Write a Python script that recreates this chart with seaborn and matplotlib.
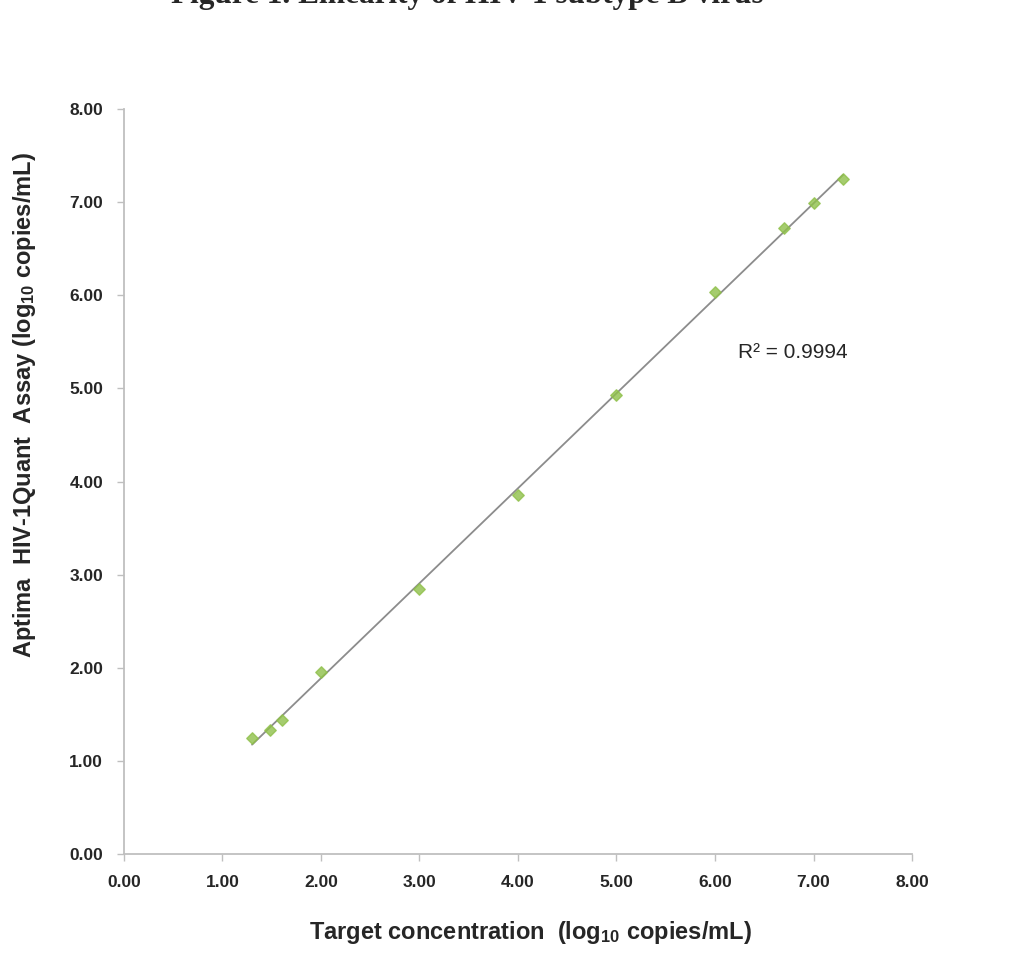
import numpy as np
import pandas as pd
import matplotlib
matplotlib.use("Agg")
import matplotlib.pyplot as plt
import seaborn as sns

# target vs measured (log10 copies/mL)
target = [1.30, 1.48, 1.60, 2.00, 3.00, 4.00, 5.00, 6.00, 6.70, 7.00, 7.30]
measured = [1.25, 1.33, 1.44, 1.95, 2.85, 3.86, 4.93, 6.04, 6.72, 6.99, 7.25]
ticks = [0, 1, 2, 3, 4, 5, 6, 7, 8]
r2_text = "R\u00b2 = 0.9994"

df = pd.DataFrame({"target": target, "measured": measured})

sns.set_style("white")
plt.rcParams["font.family"] = ["Liberation Sans", "DejaVu Sans"]
plt.rcParams["mathtext.default"] = "regular"

fig = plt.figure(figsize=(10.13, 9.76), dpi=100)
ax = fig.add_axes([0.1224, 0.125, 0.7779, 0.7633])

sns.regplot(data=df, x="target", y="measured", ax=ax, ci=None,
            marker="D", scatter_kws={"s": 34, "color": "#8FC04A", "zorder": 3},
            line_kws={"color": "#8C8C8C", "lw": 1.3, "zorder": 2})

ax.set_xlim(0, 8)
ax.set_ylim(0, 8)
ax.set_xticks(ticks)
ax.set_yticks(ticks)
ax.set_xticklabels([f"{t:.2f}" for t in ticks], fontweight="bold", fontsize=12.5)
ax.set_yticklabels([f"{t:.2f}" for t in ticks], fontweight="bold", fontsize=12.5)
ax.tick_params(axis="both", direction="out", length=5, width=1, color="#BFBFBF",
               bottom=True, left=True, pad=10)

sns.despine(ax=ax)
for s in ["left", "bottom"]:
    ax.spines[s].set_color("#BFBFBF")
    ax.spines[s].set_linewidth(1.3)

ax.set_xlabel("Target concentration  (log$_{10}$ copies/mL)", fontsize=17,
              fontweight="bold")
ax.set_ylabel("Aptima  HIV-1Quant  Assay (log$_{10}$ copies/mL)", fontsize=17,
              fontweight="bold")
ax.xaxis.set_label_coords(0.516, -0.087)
ax.yaxis.set_label_coords(-0.109, 0.603)

ax.text(6.23, 5.39, r2_text, fontsize=15, va="center", ha="left")

fig.text(0.461, 1 - 3 / 976, "Figure 1. Linearity of HIV-1 subtype B virus",
         family=["Liberation Serif", "DejaVu Serif"], fontweight="bold",
         fontsize=22.5, ha="center", va="baseline")

fig.savefig("out.png", dpi=100)
